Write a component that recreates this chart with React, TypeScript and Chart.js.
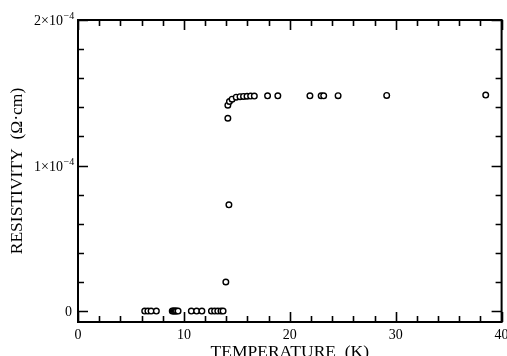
import React, { useEffect, useRef } from "react";
import { Chart, registerables } from "chart.js";

Chart.register(...registerables);

// Temperature (K)
const temperature = [
  6.3, 6.6, 6.9, 7.4,
  8.9, 9.0, 9.1, 9.2, 9.3, 9.45,
  10.7, 11.2, 11.7,
  12.6, 12.9, 13.2, 13.5, 13.7,
  13.96, 14.25,
  14.15, 14.15, 14.3, 14.55, 14.94, 15.3, 15.63, 15.96, 16.3, 16.65,
  17.9, 18.87, 21.9, 22.96, 23.2, 24.56, 29.15, 38.5,
];
// Resistivity (Ω·cm)
const resistivity = [
  0, 0, 0, 0,
  0, 0, 0, 0, 0, 0,
  0, 0, 0,
  0, 0, 0, 0, 0,
  2.0e-5, 7.3e-5,
  1.325e-4, 1.415e-4, 1.44e-4, 1.456e-4, 1.47e-4, 1.473e-4, 1.475e-4, 1.476e-4, 1.477e-4, 1.477e-4,
  1.479e-4, 1.479e-4, 1.479e-4, 1.479e-4, 1.479e-4, 1.48e-4, 1.482e-4, 1.484e-4,
];
const xTickLabels = ["0", "10", "20", "30", "40"];
const xTickValues = [0, 10, 20, 30, 40];
const yTickValues = [0, 1e-4, 2e-4];
const yTickMantissa = ["0", "1×10", "2×10"];
const yTickExponent = ["", "−4", "−4"];
const xTitle = "TEMPERATURE  (K)";
const yTitle = "RESISTIVITY  (Ω·cm)";

const FONT = "'Liberation Serif', 'Times New Roman', serif";

const axesPlugin = {
  id: "framedAxes",
  afterDraw(chart: any) {
    const ctx = chart.ctx as CanvasRenderingContext2D;
    const x = chart.scales.x;
    const y = chart.scales.y;
    const { left, right, top, bottom } = chart.chartArea;
    ctx.save();
    ctx.strokeStyle = "#000";
    ctx.fillStyle = "#000";
    ctx.lineWidth = 2;
    ctx.beginPath();
    ctx.rect(left, top, right - left, bottom - top);
    ctx.stroke();

    ctx.lineWidth = 1.6;
    ctx.beginPath();
    // x ticks every 2 K, major every 10
    for (let v = 0; v <= 40; v += 2) {
      const px = Math.round(x.getPixelForValue(v)) + 0.5;
      const len = v % 10 === 0 ? 10 : 6;
      ctx.moveTo(px, bottom);
      ctx.lineTo(px, bottom - len);
      ctx.moveTo(px, top);
      ctx.lineTo(px, top + len);
    }
    // y ticks every 2e-5, major every 1e-4
    for (let i = 0; i <= 10; i++) {
      const v = i * 2e-5;
      const py = Math.round(y.getPixelForValue(v)) + 0.5;
      const len = i % 5 === 0 ? 10 : 6;
      ctx.moveTo(left, py);
      ctx.lineTo(left + len, py);
      ctx.moveTo(right, py);
      ctx.lineTo(right - len, py);
    }
    ctx.stroke();

    // x tick labels
    ctx.font = `14px ${FONT}`;
    ctx.textAlign = "center";
    ctx.textBaseline = "alphabetic";
    xTickValues.forEach((v, i) => {
      ctx.fillText(xTickLabels[i], x.getPixelForValue(v), bottom + 17);
    });

    // y tick labels with superscript exponent
    yTickValues.forEach((v, i) => {
      const py = y.getPixelForValue(v) + 5;
      if (yTickExponent[i]) {
        ctx.font = `14px ${FONT}`;
        ctx.textAlign = "right";
        ctx.fillText(yTickMantissa[i], left - 15, py);
        ctx.font = `10px ${FONT}`;
        ctx.textAlign = "left";
        ctx.fillText(yTickExponent[i], left - 14.5, py - 6);
      } else {
        ctx.font = `14px ${FONT}`;
        ctx.textAlign = "right";
        ctx.fillText(yTickMantissa[i], left - 6, py);
      }
    });

    // axis titles
    ctx.font = `17.5px ${FONT}`;
    ctx.textAlign = "center";
    ctx.textBaseline = "alphabetic";
    ctx.fillText(xTitle, (left + right) / 2, bottom + 35);

    ctx.translate(22, (top + bottom) / 2);
    ctx.rotate(-Math.PI / 2);
    ctx.fillText(yTitle, 0, 0);
    ctx.restore();
  },
};

export default function App() {
  const ref = useRef<HTMLCanvasElement | null>(null);
  useEffect(() => {
    if (!ref.current) return;
    const chart = new Chart(ref.current, {
      type: "scatter",
      data: {
        datasets: [
          {
            data: temperature.map((t, i) => ({ x: t, y: resistivity[i] })),
            pointRadius: 2.8,
            pointBorderWidth: 1.4,
            pointBackgroundColor: "#fff",
            pointBorderColor: "#000",
            showLine: false,
          },
        ],
      },
      options: {
        responsive: false,
        animation: false,
        devicePixelRatio: 1,
        layout: { padding: { left: 78, top: 20, right: 5, bottom: 34 } },
        plugins: { legend: { display: false }, tooltip: { enabled: false } },
        scales: {
          x: { type: "linear", min: 0, max: 40, display: false },
          y: { type: "linear", min: -7.5e-6, max: 2e-4, display: false },
        },
      },
      plugins: [axesPlugin],
    });
    return () => chart.destroy();
  }, []);
  return (
    <div style={{ position: "absolute", left: 0, top: 0, width: 507, height: 356, background: "#fff" }}>
      <canvas ref={ref} width={507} height={356} />
    </div>
  );
}
